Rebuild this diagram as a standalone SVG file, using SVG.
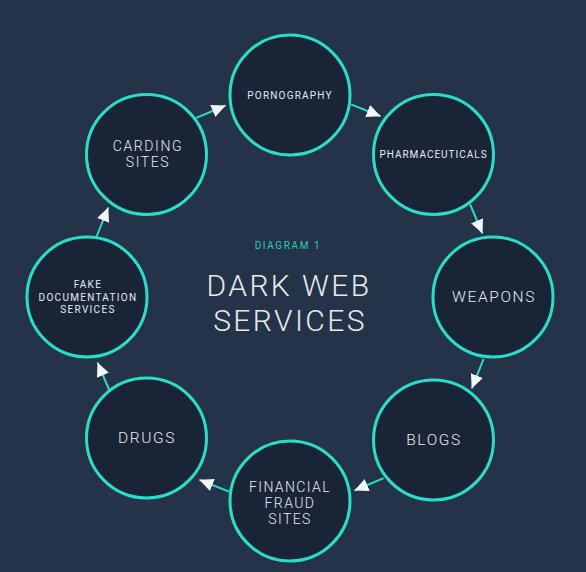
<svg xmlns="http://www.w3.org/2000/svg" width="586" height="572" viewBox="0 0 586 572">
<defs>
<marker id="arr" markerUnits="userSpaceOnUse" markerWidth="15" markerHeight="13" refX="14" refY="6.5" orient="auto">
<path d="M0,0 L14,6.5 L0,13 Z" fill="#f4f6f8"/>
</marker>
<style>
.node circle{fill:#1a2437;stroke:#26dfc8;stroke-width:3}
.lbl{font-family:Roboto,"Liberation Sans",sans-serif;fill:#e6eaef;text-anchor:middle}
.big{font-weight:300}
.conn line{stroke:#26dfc8;stroke-width:2;marker-end:url(#arr)}
</style>
</defs>
<rect width="586" height="572" fill="#253348"/>
<g id="title">
<text x="288" y="249" class="lbl" style="fill:#26cdb8;font-size:10px;letter-spacing:1.6px">DIAGRAM 1</text>
<text x="289" y="296" class="lbl" style="font-size:30px;font-weight:300;letter-spacing:2.4px">DARK WEB</text>
<text x="290" y="331" class="lbl" style="font-size:30px;font-weight:300;letter-spacing:2.4px">SERVICES</text>
</g>
<g id="connectors" class="conn">
<line x1="196.3" y1="117.9" x2="225.6" y2="105.5"/>
<line x1="351.0" y1="104.4" x2="380.6" y2="116.3"/>
<line x1="470.1" y1="204.3" x2="482.5" y2="233.6"/>
<line x1="483.6" y1="359.0" x2="471.7" y2="388.6"/>
<line x1="383.7" y1="478.1" x2="354.4" y2="490.5"/>
<line x1="229.0" y1="491.6" x2="199.4" y2="479.7"/>
<line x1="109.9" y1="391.7" x2="97.5" y2="362.4"/>
<line x1="96.4" y1="237.0" x2="108.3" y2="207.4"/>
</g>
<g id="pornography" class="node">
<circle cx="290" cy="95" r="60"/>
<text x="290" y="99" class="lbl" style="font-size:10px;letter-spacing:1.2px">PORNOGRAPHY</text>
</g>
<g id="pharmaceuticals" class="node">
<circle cx="433.5" cy="154.5" r="60"/>
<text x="433.5" y="158" class="lbl" style="font-size:10px;letter-spacing:1px">PHARMACEUTICALS</text>
</g>
<g id="weapons" class="node">
<circle cx="493" cy="297" r="60"/>
<text x="494" y="302" class="lbl big" style="font-size:15.5px;letter-spacing:1.6px">WEAPONS</text>
</g>
<g id="blogs" class="node">
<circle cx="433.5" cy="440" r="60"/>
<text x="434" y="445" class="lbl big" style="font-size:15.5px;letter-spacing:1.6px">BLOGS</text>
</g>
<g id="financial-fraud-sites" class="node">
<circle cx="290" cy="501" r="60"/>
<text x="290" y="492" class="lbl big" style="font-size:14px;letter-spacing:1.4px">FINANCIAL</text>
<text x="290" y="508" class="lbl big" style="font-size:14px;letter-spacing:1.4px">FRAUD</text>
<text x="290" y="524" class="lbl big" style="font-size:14px;letter-spacing:1.4px">SITES</text>
</g>
<g id="drugs" class="node">
<circle cx="146.5" cy="438" r="60"/>
<text x="147" y="443" class="lbl big" style="font-size:15.5px;letter-spacing:1.6px">DRUGS</text>
</g>
<g id="fake-documentation-services" class="node">
<circle cx="87" cy="297" r="60"/>
<text x="88" y="288" class="lbl" style="font-size:10px;letter-spacing:1.3px">FAKE</text>
<text x="88" y="300.5" class="lbl" style="font-size:10px;letter-spacing:1.3px">DOCUMENTATION</text>
<text x="88" y="313" class="lbl" style="font-size:10px;letter-spacing:1.3px">SERVICES</text>
</g>
<g id="carding-sites" class="node">
<circle cx="146.5" cy="154.5" r="60"/>
<text x="148" y="151" class="lbl big" style="font-size:14px;letter-spacing:1.6px">CARDING</text>
<text x="148" y="167" class="lbl big" style="font-size:14px;letter-spacing:1.6px">SITES</text>
</g>
</svg>
